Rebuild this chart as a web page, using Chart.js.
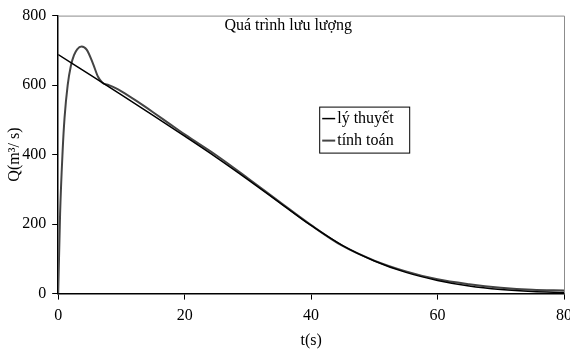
<!DOCTYPE html>
<html lang="vi">
<head>
<meta charset="UTF-8">
<title>Quá trình lưu lượng</title>
<script src="https://cdn.jsdelivr.net/npm/chart.js"></script>
<style>
    html, body { margin: 0; padding: 0; background: #fff; overflow: hidden; }
    #wrap { width: 580px; height: 350px; position: relative; }
</style>
</head>
<body>
<div id="wrap"><canvas id="luuLuong"></canvas></div>

<script>
    // Lưu lượng lý thuyết
    const tLyThuyet = [0, 5, 10, 15, 20, 25, 30, 35, 40, 45, 50, 55, 60, 65, 70, 75, 80];
    const qLyThuyet = [688, 630, 572, 513, 453, 392, 328, 262, 196, 138, 94, 61, 38, 22, 12, 6, 3];

    // Lưu lượng tính toán
    const tTinhToan = [0, 0.3, 0.7, 1, 1.5, 2, 2.5, 3, 3.7, 4.5, 5.5, 6.3, 7, 8, 9, 10, 12.5, 15, 17.5, 20, 25, 30, 35, 40, 45, 50, 55, 60, 65, 70, 75, 80];
    const qTinhToan = [0, 230, 410, 505, 600, 655, 686, 703, 711, 702, 662, 624, 607, 600, 592, 582, 553, 522, 490, 458, 398, 332, 264, 197, 137, 95, 64, 41, 27, 17, 11, 9];

    const xTicks = [0, 20, 40, 60, 80];
    const yTicks = [0, 200, 400, 600, 800];

    const serif = "'Liberation Serif', 'DejaVu Serif', serif";

    function toPoints(ts, qs) {
        return ts.map((t, i) => ({x: t, y: qs[i]}));
    }

    // khung xám phía trên và bên phải, tiêu đề và chú giải bên trong vùng vẽ
    const extras = {
        id: 'extras',
        beforeDatasetsDraw(chart) {
            const {ctx, chartArea: a} = chart;
            ctx.save();
            ctx.strokeStyle = '#8c8c8c';
            ctx.lineWidth = 1;
            ctx.beginPath();
            ctx.moveTo(a.left, a.top + 0.5);
            ctx.lineTo(a.right + 0.5, a.top + 0.5);
            ctx.lineTo(a.right + 0.5, a.bottom);
            ctx.stroke();
            ctx.restore();
        },
        afterDraw(chart) {
            const {ctx, chartArea: a} = chart;
            ctx.save();
            ctx.fillStyle = '#000';
            ctx.font = '16px ' + serif;
            ctx.textAlign = 'center';
            ctx.textBaseline = 'alphabetic';
            ctx.fillText('Quá trình lưu lượng', a.left + 230, a.top + 14);

            // chú giải
            const bx = a.left + 261, by = a.top + 91, bw = 90, bh = 46;
            ctx.strokeStyle = '#000';
            ctx.lineWidth = 1;
            ctx.strokeRect(bx + 0.5, by + 0.5, bw, bh);
            ctx.textAlign = 'left';
            ctx.textBaseline = 'middle';
            chart.data.datasets.forEach((ds, i) => {
                const y = by + 12 + i * 22;
                ctx.strokeStyle = ds.borderColor;
                ctx.lineWidth = ds.borderWidth;
                ctx.beginPath();
                ctx.moveTo(bx + 3, y);
                ctx.lineTo(bx + 16, y);
                ctx.stroke();
                ctx.fillText(ds.label, bx + 18, y);
            });
            ctx.restore();
        }
    };

    new Chart(document.getElementById('luuLuong'), {
        type: 'line',
        data: {
            datasets: [
                {
                    label: 'lý thuyết',
                    data: toPoints(tLyThuyet, qLyThuyet),
                    borderColor: '#000',
                    borderWidth: 1.5,
                    pointRadius: 0,
                    cubicInterpolationMode: 'monotone',
                    fill: false
                },
                {
                    label: 'tính toán',
                    data: toPoints(tTinhToan, qTinhToan),
                    borderColor: '#444',
                    borderWidth: 2,
                    pointRadius: 0,
                    cubicInterpolationMode: 'monotone',
                    fill: false
                }
            ]
        },
        options: {
            responsive: true,
            maintainAspectRatio: false,
            animation: false,
            layout: {padding: {top: 15, right: 16, left: 5, bottom: 0}},
            plugins: {
                legend: {display: false},
                tooltip: {enabled: false}
            },
            scales: {
                x: {
                    type: 'linear',
                    min: 0,
                    max: 80,
                    afterBuildTicks: axis => { axis.ticks = xTicks.map(v => ({value: v})); },
                    grid: {drawOnChartArea: false, drawTicks: true, tickLength: 6, color: '#000'},
                    border: {display: true, color: '#000', width: 1.5},
                    ticks: {color: '#000', font: {family: serif, size: 16}, padding: 7, maxRotation: 0},
                    title: {display: true, text: 't(s)', color: '#000', font: {family: serif, size: 16}, padding: {top: -2, bottom: 0}}
                },
                y: {
                    min: 0,
                    max: 800,
                    afterBuildTicks: axis => { axis.ticks = yTicks.map(v => ({value: v})); },
                    grid: {drawOnChartArea: false, drawTicks: true, tickLength: 6, color: '#000'},
                    border: {display: true, color: '#000', width: 1.5},
                    ticks: {color: '#000', font: {family: serif, size: 16}, padding: 6},
                    title: {display: true, text: 'Q(m³/ s)', color: '#000', font: {family: serif, size: 16}, padding: {top: 0, bottom: -8}}
                }
            }
        },
        plugins: [extras]
    });
</script>
</body>
</html>
